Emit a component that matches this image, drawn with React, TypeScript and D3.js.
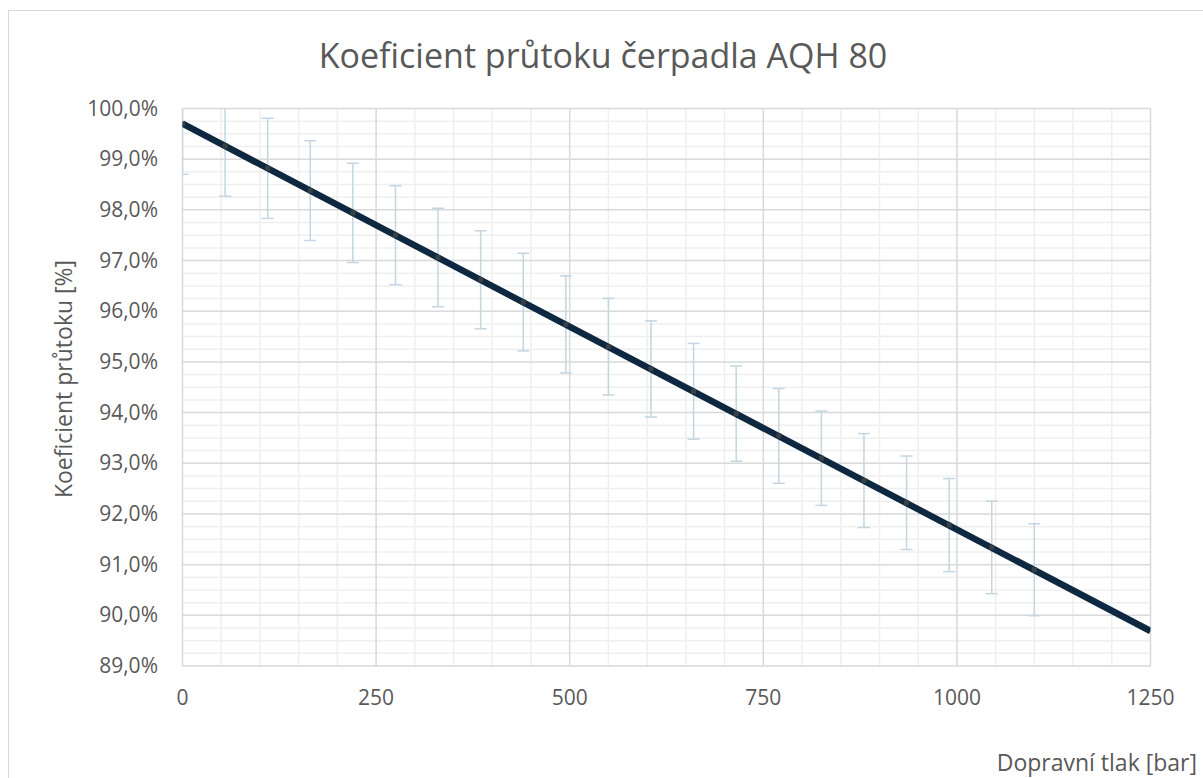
import * as d3 from "d3";

// pressure [bar] and flow coefficient [%]
const pressure = [0, 55, 110, 165, 220, 275, 330, 385, 440, 495, 550, 605, 660, 715, 770, 825, 880, 935, 990, 1045, 1100];
const coefficient = [99.7, 99.26, 98.82, 98.38, 97.94, 97.5, 97.06, 96.62, 96.18, 95.74, 95.3, 94.86, 94.42, 93.98, 93.54, 93.1, 92.66, 92.22, 91.78, 91.34, 90.9];
const errorPct = [0.997, 0.993, 0.988, 0.984, 0.979, 0.975, 0.971, 0.966, 0.962, 0.957, 0.953, 0.949, 0.944, 0.94, 0.935, 0.931, 0.927, 0.922, 0.918, 0.913, 0.909];
// linear trend line end points
const trendX = [0, 1250];
const trendY = [99.7, 89.69];

const xTicks = [0, 250, 500, 750, 1000, 1250];
const yTicks = [89, 90, 91, 92, 93, 94, 95, 96, 97, 98, 99, 100];

const W = 1203;
const H = 778;
const left = 182.5;
const right = 1150.5;
const top = 108.5;
const bottom = 666;

const font = "'Open Sans', 'Noto Sans', sans-serif";
const textColor = "#595959";

export default function App() {
  const x = d3.scaleLinear().domain([0, 1250]).range([left, right]);
  const y = d3.scaleLinear().domain([89, 100]).range([bottom, top]);

  const minorX = d3.range(0, 1251, 50).filter((v) => v % 250 !== 0);
  const minorY = d3.range(89, 100.001, 0.25).filter((v) => Math.abs(v - Math.round(v)) > 0.01);

  const trend = d3.line<number>()
    .x((_, i) => x(trendX[i]))
    .y((d) => y(d));

  const fmt = (v: number) => v.toFixed(1).replace(".", ",") + "%";

  return (
    <div style={{ position: "absolute", left: 0, top: 0 }}>
      <svg width={W} height={H} style={{ display: "block", background: "white" }}>
        <defs>
          <clipPath id="plot">
            <rect x={left} y={top} width={right - left} height={bottom - top} />
          </clipPath>
        </defs>
        <rect x={8.5} y={10.5} width={W + 10} height={H + 10} fill="white" stroke="#d9d9d9" strokeWidth={1} />

        <text x={603} y={68} textAnchor="middle" fontFamily={font} fontSize={34} fill={textColor}>
          Koeficient průtoku čerpadla AQH 80
        </text>

        {/* minor grid */}
        {minorX.map((v) => (
          <line key={"mx" + v} x1={x(v)} x2={x(v)} y1={top} y2={bottom} stroke="#efefef" strokeWidth={1.5} />
        ))}
        {minorY.map((v) => (
          <line key={"my" + v} x1={left} x2={right} y1={y(v)} y2={y(v)} stroke="#efefef" strokeWidth={1.5} />
        ))}
        {/* major grid */}
        {xTicks.map((v) => (
          <line key={"gx" + v} x1={x(v)} x2={x(v)} y1={top} y2={bottom} stroke="#d9d9d9" strokeWidth={1.5} />
        ))}
        {yTicks.map((v) => (
          <line key={"gy" + v} x1={left} x2={right} y1={y(v)} y2={y(v)} stroke="#d9d9d9" strokeWidth={1.5} />
        ))}

        <g clipPath="url(#plot)">
          {pressure.map((p, i) => {
            const cx = x(p);
            const y1 = y(coefficient[i] + errorPct[i]);
            const y2 = y(coefficient[i] - errorPct[i]);
            return (
              <g key={"e" + i} stroke="#c3d6e1" strokeWidth={1.5}>
                <line x1={cx} x2={cx} y1={y1} y2={y2} />
                <line x1={cx - 6} x2={cx + 6} y1={y1} y2={y1} />
                <line x1={cx - 6} x2={cx + 6} y1={y2} y2={y2} />
              </g>
            );
          })}
          <path d={trend(trendY) ?? ""} fill="none" stroke="#0e2841" strokeWidth={6.5} />
          {pressure.map((p, i) => (
            <rect key={"m" + i} x={x(p) - 2.5} y={y(coefficient[i]) - 2.5} width={5} height={5} fill="#3a3f44" />
          ))}
        </g>

        {yTicks.map((v) => (
          <text key={"ty" + v} x={158} y={y(v) + 7} textAnchor="end" fontFamily={font} fontSize={21} fill={textColor}>
            {fmt(v)}
          </text>
        ))}
        {xTicks.map((v) => (
          <text key={"tx" + v} x={x(v)} y={705} textAnchor="middle" fontFamily={font} fontSize={21} fill={textColor}>
            {v}
          </text>
        ))}

        <text
          transform="translate(72, 379) rotate(-90)"
          textAnchor="middle"
          fontFamily={font}
          fontSize={23}
          fill={textColor}
        >
          Koeficient průtoku [%]
        </text>
        <text x={1197} y={771} textAnchor="end" fontFamily={font} fontSize={23} fill={textColor}>
          Dopravní tlak [bar]
        </text>
      </svg>
    </div>
  );
}
